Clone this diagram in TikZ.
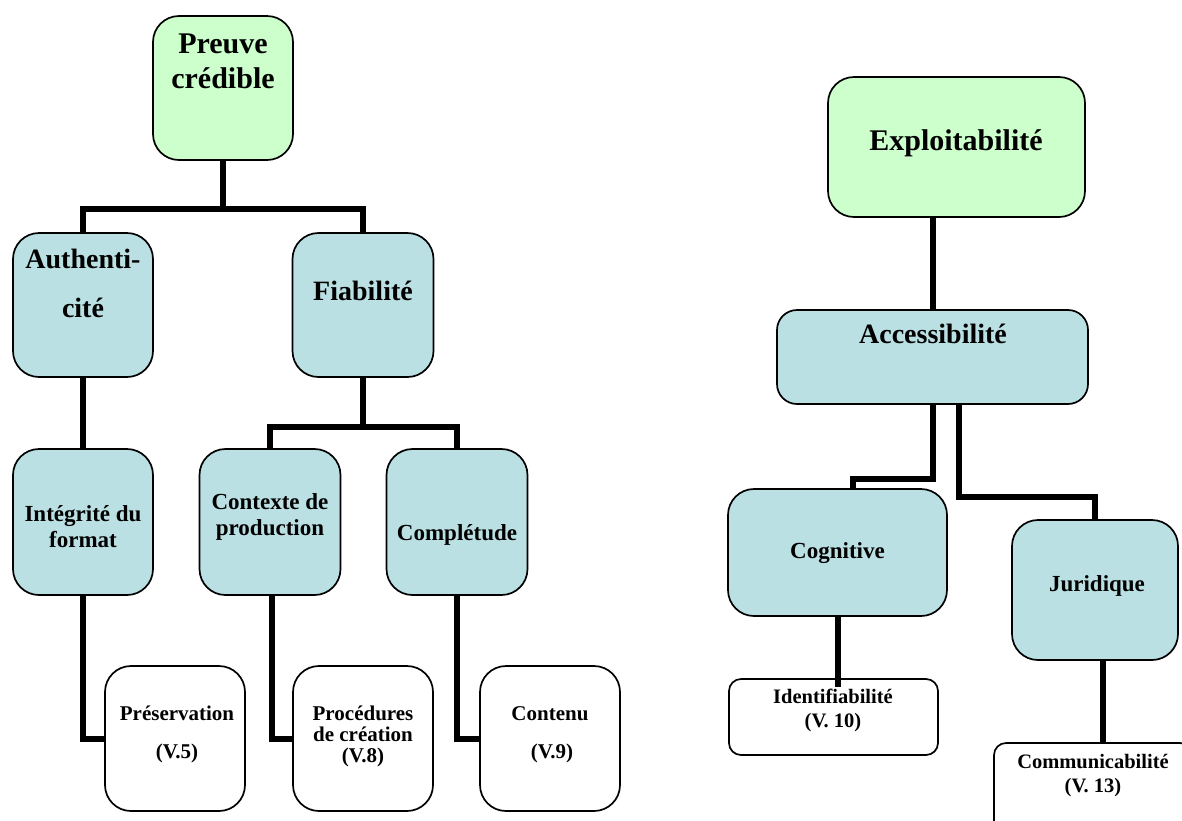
\documentclass[tikz,border=0pt]{standalone}
\usepackage{fontspec}
\setmainfont{Liberation Serif}
\begin{document}
\begin{tikzpicture}[x=1pt,y=-1pt,
  boxbase/.style={draw=black, line width=1.7pt, inner sep=0pt, outer sep=0pt, rectangle},
  rootbox/.style={boxbase, fill=rootgreen, rounded corners=26pt},
  critbox/.style={boxbase, fill=critblue, rounded corners=26pt},
  critboxs/.style={boxbase, fill=critblue, rounded corners=20pt},
  leafbox/.style={boxbase, fill=white, rounded corners=26pt},
  leafboxs/.style={boxbase, fill=white, rounded corners=12pt},
  conn/.style={line width=6pt, line join=miter, line cap=butt},
  lbl/.style={inner sep=0pt, anchor=base},
  tbig/.style={lbl, font=\bfseries\fontsize{30}{34}\selectfont},
  tmid/.style={lbl, font=\bfseries\fontsize{28}{32}\selectfont},
  tsmall/.style={lbl, font=\bfseries\fontsize{23}{26}\selectfont},
  tleaf/.style={lbl, font=\bfseries\fontsize{21}{24}\selectfont},
  tleafs/.style={lbl, font=\bfseries\fontsize{20.5}{23}\selectfont},
]
\definecolor{rootgreen}{RGB}{204,255,204}
\definecolor{critblue}{RGB}{186,224,227}

\fill[white] (0,0) rectangle (1182,820);
\clip (0,0) rectangle (1182,820);

% ---------- Preuve crédible ----------
\node[rootbox, minimum width=140pt, minimum height=144pt] (pv) at (223,88) {};
\node[critbox, minimum width=140pt, minimum height=144pt] (au) at (83,305) {};
\node[critbox, minimum width=141pt, minimum height=144pt] (fi) at (363,305) {};
\node[critbox, minimum width=140pt, minimum height=146pt] (ig) at (83,522) {};
\node[critbox, minimum width=141pt, minimum height=146pt] (cx) at (270,522) {};
\node[critbox, minimum width=141pt, minimum height=146pt] (cl) at (457,522) {};
\node[leafbox, minimum width=140pt, minimum height=145pt] (ps) at (175,738.5) {};
\node[leafbox, minimum width=140pt, minimum height=145pt] (pc) at (363,738.5) {};
\node[leafbox, minimum width=140pt, minimum height=145pt] (ct) at (550,738.5) {};

\node[tbig] (pv1) at (223,53) {Preuve};
\node[tbig] (pv2) at (223,88) {crédible};
\node[tmid] (au1) at (83,268) {Authenti-};
\node[tmid] (au2) at (83,317) {cité};
\node[tmid] (fi1) at (363,300) {Fiabilité};
\node[tsmall] (ig1) at (83,521) {Intégrité du};
\node[tsmall] (ig2) at (83,547) {format};
\node[tsmall] (cx1) at (270,509) {Contexte de};
\node[tsmall] (cx2) at (270,535) {production};
\node[tsmall] (cl1) at (457,540) {Complétude};
\node[tleaf] (ps1) at (177,720) {Préservation};
\node[tleaf] (ps2) at (177,758) {(V.5)};
\node[tleaf] (pc1) at (363,720) {Procédures};
\node[tleaf] (pc2) at (363,741) {de création};
\node[tleaf] (pc3) at (363,762) {(V.8)};
\node[tleaf] (ct1) at (550,720) {Contenu};
\node[tleaf] (ct2) at (552,758) {(V.9)};

\coordinate (jA) at (0,209);
\coordinate (jB) at (0,427);

\draw[conn] (pv.south) -- (pv.south |- jA);
\draw[conn] (au.north) -- (au.north |- jA) -- (fi.north |- jA) -- (fi.north);
\draw[conn] (au.south) -- (ig.north);
\draw[conn] (fi.south) -- (fi.south |- jB);
\draw[conn] (cx.north) -- (cx.north |- jB) -- (cl.north |- jB) -- (cl.north);
\draw[conn] (ig.south) |- (ps.west);
\draw[conn] ([xshift=2pt]cx.south) |- (pc.west);
\draw[conn] (cl.south) |- (ct.west);

% ---------- Exploitabilité ----------
\node[rootbox, minimum width=257pt, minimum height=140pt] (ex) at (956.5,147) {};
\node[critboxs, minimum width=311pt, minimum height=94pt] (ac) at (932.5,357) {};
\node[critbox, minimum width=219pt, minimum height=127pt] (cg) at (837.5,552.5) {};
\node[critbox, minimum width=166pt, minimum height=140pt] (ju) at (1095,590) {};
\node[leafboxs, minimum width=209pt, minimum height=76pt] (id) at (833.5,717) {};
\node[leafboxs, minimum width=198pt, minimum height=114pt] (cm) at (1093,800) {};

\node[tbig] (ex1) at (956,150) {Exploitabilité};
\node[tmid] (ac1) at (933,343) {Accessibilité};
\node[tsmall] (cg1) at (837.5,558) {Cognitive};
\node[tsmall] (ju1) at (1097,591) {Juridique};
\node[tleafs] (id1) at (833,703) {Identifiabilité};
\node[tleafs] (id2) at (833,727) {(V. 10)};
\node[tleafs] (cm1) at (1093,768) {Communicabilité};
\node[tleafs] (cm2) at (1093,792) {(V. 13)};

\coordinate (jC) at (0,479);
\coordinate (jD) at (0,497);

\draw[conn] (ac.north) -- (ac.north |- ex.south);
\draw[conn] (ac.south) -- (ac.south |- jC) -- ([xshift=15pt]cg.north |- jC) -- ([xshift=15pt]cg.north);
\draw[conn] ([xshift=26pt]ac.south) -- ([xshift=26pt]ac.south |- jD) -- (ju.north |- jD) -- (ju.north);
\draw[conn] (cg.south) -- ([yshift=-8pt]cg.south |- id.north);
\draw[conn] ([xshift=8pt]ju.south) -- ([xshift=8pt]ju.south |- cm.north);
\end{tikzpicture}
\end{document}
